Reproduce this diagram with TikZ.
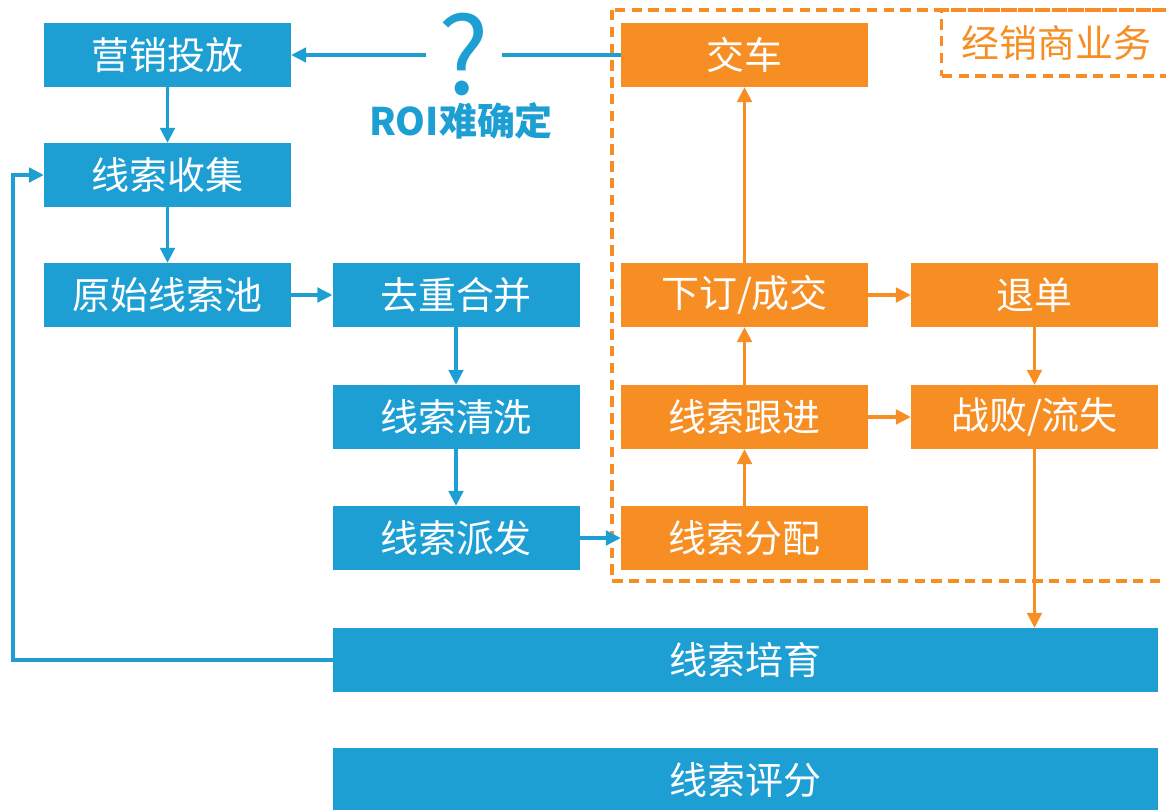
\documentclass[tikz,border=0pt]{standalone}
\usepackage{fontspec}
\setmainfont{Noto Sans CJK SC}
\usetikzlibrary{arrows.meta}
\definecolor{leadblue}{RGB}{30,159,212}
\definecolor{dealorange}{RGB}{246,142,35}
\begin{document}
\begin{tikzpicture}[x=0.25mm,y=-0.25mm,
  box/.style={minimum width=61.75mm,minimum height=16mm,inner sep=0pt,outer sep=0pt,text=white,font=\fontsize{27}{30}\selectfont},
  bbox/.style={box,fill=leadblue},
  obox/.style={box,fill=dealorange},
  wbox/.style={bbox,minimum width=206.25mm},
  barrow/.style={draw=leadblue,line width=2.8pt,-{Triangle[length=3.8mm,width=3.6mm]}},
  oarrow/.style={draw=dealorange,line width=2.8pt,-{Triangle[length=3.8mm,width=3.6mm]}},
  dealdash/.style={draw=dealorange,line width=2.4pt,dash pattern=on 2.6mm off 1.6mm}]
\useasboundingbox (0,0) rectangle (1166,810);
\clip (0,0) rectangle (1166,810);
% dealer area
\draw[dealdash] (612,10) rectangle (1190,581);
\node[dealdash,anchor=west,text=dealorange,font=\fontsize{27}{30}\selectfont,minimum height=16.5mm,text width=52mm,align=left,inner xsep=5mm] (dealer) at (940,43) {经销商业务};
% lead boxes
\node[bbox] (toufang) at (167.5,55) {营销投放};
\node[bbox] (shouji) at (167.5,175) {线索收集};
\node[bbox] (yuanshi) at (167.5,295) {原始线索池};
\node[bbox] (quchong) at (456,295) {去重合并};
\node[bbox] (qingxi) at (456,417) {线索清洗};
\node[bbox] (paifa) at (456,538) {线索派发};
\node[obox] (jiaoche) at (744.5,55) {交车};
\node[obox] (xiading) at (744.5,295) {下订/成交};
\node[obox] (genjin) at (744.5,417) {线索跟进};
\node[obox] (fenpei) at (744.5,538) {线索分配};
\node[obox] (tuidan) at (1034.5,295) {退单};
\node[obox] (zhanbai) at (1034.5,417) {战败/流失};
\node[wbox] (peiyu) at (745.5,660) {线索培育};
\node[wbox] (pingfen) at (745.5,780) {线索评分};
% question
\node[text=leadblue,font=\fontsize{76}{80}\selectfont,minimum width=18.75mm,inner sep=0pt] (q) at (464,54) {?};
\node[text=leadblue,font=\bfseries\fontsize{27}{30}\selectfont] (roi) at (461,121) {ROI难确定};
% connectors
\draw[leadblue,line width=2.8pt] (jiaoche.west) -- (jiaoche.west -| q.east);
\draw[barrow] (toufang.east -| q.west) -- (toufang.east);
\draw[barrow] (toufang) -- (shouji);
\draw[barrow] (shouji) -- (yuanshi);
\draw[barrow] (yuanshi) -- (quchong);
\draw[barrow] (quchong) -- (qingxi);
\draw[barrow] (qingxi) -- (paifa);
\draw[barrow] (paifa) -- (fenpei);
\draw[oarrow] (fenpei) -- (genjin);
\draw[oarrow] (genjin) -- (xiading);
\draw[oarrow] (xiading) -- (jiaoche);
\draw[oarrow] (xiading) -- (tuidan);
\draw[oarrow] (genjin) -- (zhanbai);
\draw[oarrow] (tuidan) -- (zhanbai);
\draw[oarrow] (zhanbai.south) -- (zhanbai.south |- peiyu.north);
\draw[barrow] (peiyu.west) -- ++(-320,0) |- (shouji.west);
\end{tikzpicture}
\end{document}
